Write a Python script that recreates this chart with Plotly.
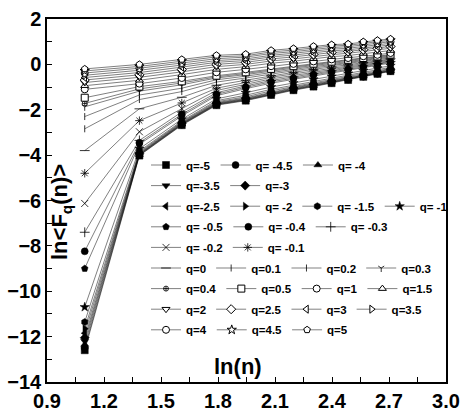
import plotly.graph_objects as go

# x values: ln(n) for n = 3..15
ln_n = [1.0986, 1.3863, 1.6094, 1.7918, 1.9459, 2.0794, 2.1972, 2.3026, 2.3979, 2.4849, 2.5649, 2.6391, 2.7081]

f_qm5 = [-12.60, -4.02, -2.68, -1.80, -1.60, -1.35, -1.14, -0.98, -0.83, -0.69, -0.55, -0.42, -0.30]
f_qm4_5 = [-12.50, -4.00, -2.66, -1.78, -1.58, -1.33, -1.12, -0.96, -0.81, -0.67, -0.54, -0.41, -0.29]
f_qm4 = [-12.35, -3.98, -2.64, -1.76, -1.56, -1.31, -1.10, -0.94, -0.79, -0.65, -0.52, -0.40, -0.28]
f_qm3_5 = [-12.20, -3.96, -2.62, -1.74, -1.54, -1.29, -1.08, -0.92, -0.77, -0.63, -0.50, -0.38, -0.26]
f_qm3 = [-12.05, -3.94, -2.60, -1.72, -1.51, -1.26, -1.05, -0.89, -0.75, -0.61, -0.48, -0.36, -0.24]
f_qm2_5 = [-11.85, -3.91, -2.57, -1.69, -1.48, -1.22, -1.02, -0.86, -0.72, -0.58, -0.45, -0.33, -0.21]
f_qm2 = [-11.65, -3.87, -2.54, -1.65, -1.43, -1.17, -0.98, -0.82, -0.68, -0.54, -0.41, -0.30, -0.18]
f_qm1_5 = [-11.36, -3.82, -2.50, -1.60, -1.36, -1.10, -0.92, -0.76, -0.62, -0.49, -0.36, -0.25, -0.13]
f_qm1 = [-10.70, -3.72, -2.42, -1.52, -1.25, -1.00, -0.82, -0.66, -0.53, -0.40, -0.28, -0.17, -0.06]
f_qm0_5 = [-9.00, -3.52, -2.27, -1.38, -1.07, -0.83, -0.66, -0.50, -0.38, -0.26, -0.14, -0.04, 0.06]
f_qm0_4 = [-8.24, -3.45, -2.20, -1.32, -1.01, -0.77, -0.61, -0.45, -0.33, -0.22, -0.10, 0.00, 0.10]
f_qm0_3 = [-7.40, -3.35, -2.10, -1.25, -0.95, -0.71, -0.55, -0.40, -0.28, -0.17, -0.06, 0.04, 0.13]
f_qm0_2 = [-6.13, -2.97, -1.95, -1.15, -0.88, -0.64, -0.49, -0.34, -0.23, -0.12, -0.02, 0.08, 0.17]
f_qm0_1 = [-4.80, -2.48, -1.70, -1.05, -0.80, -0.57, -0.42, -0.28, -0.18, -0.07, 0.03, 0.12, 0.21]
f_q0 = [-3.80, -1.96, -1.45, -0.92, -0.70, -0.50, -0.35, -0.22, -0.12, -0.02, 0.08, 0.16, 0.25]
f_q0_1 = [-2.84, -1.55, -1.20, -0.78, -0.60, -0.42, -0.28, -0.16, -0.06, 0.03, 0.13, 0.21, 0.29]
f_q0_2 = [-2.30, -1.35, -1.05, -0.68, -0.52, -0.35, -0.22, -0.10, -0.01, 0.08, 0.17, 0.25, 0.33]
f_q0_3 = [-1.87, -1.18, -0.90, -0.60, -0.45, -0.29, -0.16, -0.05, 0.04, 0.12, 0.22, 0.29, 0.37]
f_q0_4 = [-1.72, -1.08, -0.82, -0.55, -0.40, -0.24, -0.12, -0.01, 0.08, 0.16, 0.25, 0.32, 0.40]
f_q0_5 = [-1.47, -0.98, -0.75, -0.50, -0.35, -0.20, -0.08, 0.03, 0.12, 0.20, 0.28, 0.35, 0.43]
f_q1 = [-1.10, -0.85, -0.60, -0.35, -0.22, -0.08, 0.02, 0.13, 0.22, 0.28, 0.36, 0.42, 0.50]
f_q1_5 = [-0.94, -0.70, -0.45, -0.22, -0.10, 0.05, 0.14, 0.25, 0.34, 0.39, 0.48, 0.54, 0.61]
f_q2 = [-0.80, -0.57, -0.33, -0.10, 0.00, 0.15, 0.24, 0.35, 0.43, 0.49, 0.57, 0.63, 0.71]
f_q2_5 = [-0.69, -0.46, -0.22, 0.00, 0.09, 0.24, 0.33, 0.44, 0.52, 0.57, 0.65, 0.71, 0.79]
f_q3 = [-0.58, -0.36, -0.12, 0.09, 0.17, 0.33, 0.41, 0.52, 0.60, 0.64, 0.73, 0.79, 0.86]
f_q3_5 = [-0.48, -0.26, -0.03, 0.17, 0.24, 0.40, 0.49, 0.59, 0.67, 0.71, 0.80, 0.86, 0.93]
f_q4 = [-0.38, -0.17, 0.06, 0.25, 0.32, 0.48, 0.56, 0.67, 0.74, 0.78, 0.87, 0.93, 1.00]
f_q4_5 = [-0.29, -0.09, 0.14, 0.33, 0.38, 0.55, 0.63, 0.73, 0.81, 0.84, 0.94, 1.00, 1.06]
f_q5 = [-0.20, 0.00, 0.22, 0.40, 0.45, 0.62, 0.70, 0.80, 0.87, 0.90, 1.00, 1.06, 1.12]

series = [f_qm5, f_qm4_5, f_qm4, f_qm3_5, f_qm3, f_qm2_5, f_qm2, f_qm1_5, f_qm1,
          f_qm0_5, f_qm0_4, f_qm0_3, f_qm0_2, f_qm0_1,
          f_q0, f_q0_1, f_q0_2, f_q0_3, f_q0_4, f_q0_5,
          f_q1, f_q1_5, f_q2, f_q2_5, f_q3, f_q3_5, f_q4, f_q4_5, f_q5]

labels = ["q=-5", "q= -4.5", "q= -4", "q=-3.5", "q=-3", "q=-2.5", "q= -2", "q= -1.5", "q= -1",
          "q= -0.5", "q= -0.4", "q= -0.3", "q= -0.2", "q= -0.1",
          "q=0", "q=0.1", "q=0.2", "q=0.3", "q=0.4", "q=0.5",
          "q=1", "q=1.5", "q=2", "q=2.5", "q=3", "q=3.5", "q=4", "q=4.5", "q=5"]

# style per series: (symbol, fill mode)  'f' filled black, 'w' white filled, 'l' line glyph
styles = [("square", "f"), ("circle", "f"), ("triangle-up", "f"), ("triangle-down", "f"),
          ("diamond", "f"), ("triangle-left", "f"), ("triangle-right", "f"), ("hexagon", "f"),
          ("star", "f"), ("pentagon", "f"), ("circle", "f"), ("cross-thin-open", "l"),
          ("x-thin-open", "l"), ("asterisk-open", "l"),
          ("line-ew-open", "l"), ("line-ns-open", "l"), ("line-ns-open", "l"), ("y-down-open", "l"),
          ("circle-cross-open", "l"), ("square", "w"),
          ("circle", "w"), ("triangle-up", "w"), ("triangle-down", "w"), ("diamond", "w"),
          ("triangle-left", "w"), ("triangle-right", "w"), ("circle", "w"), ("star", "w"),
          ("pentagon", "w")]

# legend rows (indices into series)
legend_rows = [[0, 1, 2], [3, 4], [5, 6, 7, 8], [9, 10, 11], [12, 13],
               [14, 15, 16, 17], [18, 19, 20, 21], [22, 23, 24, 25], [26, 27, 28]]

row_of = {}
for r, row in enumerate(legend_rows):
    for idx in row:
        row_of[idx] = r

fig = go.Figure()
for i, (vals, lab, (sym, mode)) in enumerate(zip(series, labels, styles)):
    if mode == "f":
        marker = dict(symbol=sym, size=7, color="black", line=dict(color="black", width=0.5))
    elif mode == "w":
        marker = dict(symbol=sym, size=7, color="white", line=dict(color="black", width=1))
    else:
        small = 5 if sym in ("line-ns-open", "circle-cross-open", "y-down-open") else 7
        marker = dict(symbol=sym, size=small, color="black", line=dict(color="black", width=0.8))
    r = row_of[i]
    fig.add_trace(go.Scatter(
        x=ln_n, y=vals, mode="lines+markers", name=lab,
        line=dict(color="black", width=0.5),
        marker=marker,
        legend="legend" if r == 0 else f"legend{r + 1}",
    ))

# plot area in pixels: left 47, right 446, top 19, bottom 382
W, H = 461, 412
ml, mr, mt, mb = 47, 15, 19, 30
ph = H - mt - mb
pw = W - ml - mr

legend_font = dict(family="Liberation Sans", size=11.5, color="black", weight="bold")
layout_legends = {}
for r in range(len(legend_rows)):
    ypx = 165 + 20.6 * r
    key = "legend" if r == 0 else f"legend{r + 1}"
    layout_legends[key] = dict(
        x=(146 - ml) / pw, y=(H - mb - ypx) / ph, xanchor="left", yanchor="middle",
        orientation="h", bgcolor="rgba(0,0,0,0)", borderwidth=0,
        font=legend_font, itemwidth=30, tracegroupgap=0,
    )

tick_font = dict(family="Liberation Sans", size=20, color="black", weight="bold")

fig.update_layout(
    width=W, height=H,
    margin=dict(l=ml, r=mr, t=mt, b=mb, pad=0, autoexpand=False),
    paper_bgcolor="white", plot_bgcolor="white",
    showlegend=True,
    **layout_legends,
    xaxis=dict(range=[0.9, 3.0], tick0=0.9, dtick=0.3, tickformat=".1f",
               ticks="inside", ticklen=5, tickwidth=1.2, tickcolor="black",
               minor=dict(dtick=0.15, tick0=0.9, ticks="inside", ticklen=5, tickwidth=1.2, tickcolor="black"),
               showline=True, linecolor="black", linewidth=1.5, mirror=True,
               showgrid=False, zeroline=False, tickfont=tick_font),
    yaxis=dict(range=[-14, 2], tick0=-14, dtick=2,
               ticks="inside", ticklen=5, tickwidth=1.2, tickcolor="black",
               minor=dict(dtick=1, tick0=-14, ticks="inside", ticklen=5, tickwidth=1.2, tickcolor="black"),
               showline=True, linecolor="black", linewidth=1.5, mirror=True,
               showgrid=False, zeroline=False, tickfont=tick_font),
    annotations=[
        dict(text="ln(n)", xref="paper", yref="paper", x=(238 - ml) / pw, y=(H - mb - 366) / ph,
             xanchor="center", yanchor="middle", showarrow=False,
             font=dict(family="Liberation Sans", size=22, color="black", weight="bold")),
        dict(text="ln&lt;F<sub>q</sub>(n)&gt;", xref="paper", yref="paper",
             x=(61 - ml) / pw, y=(H - mb - 212) / ph, textangle=-90,
             xanchor="center", yanchor="middle", showarrow=False,
             font=dict(family="Liberation Sans", size=22, color="black", weight="bold")),
    ],
)

fig.write_html("out.html", config={"displayModeBar": False},
               post_script="document.body.style.margin='0';document.body.style.padding='0';")
